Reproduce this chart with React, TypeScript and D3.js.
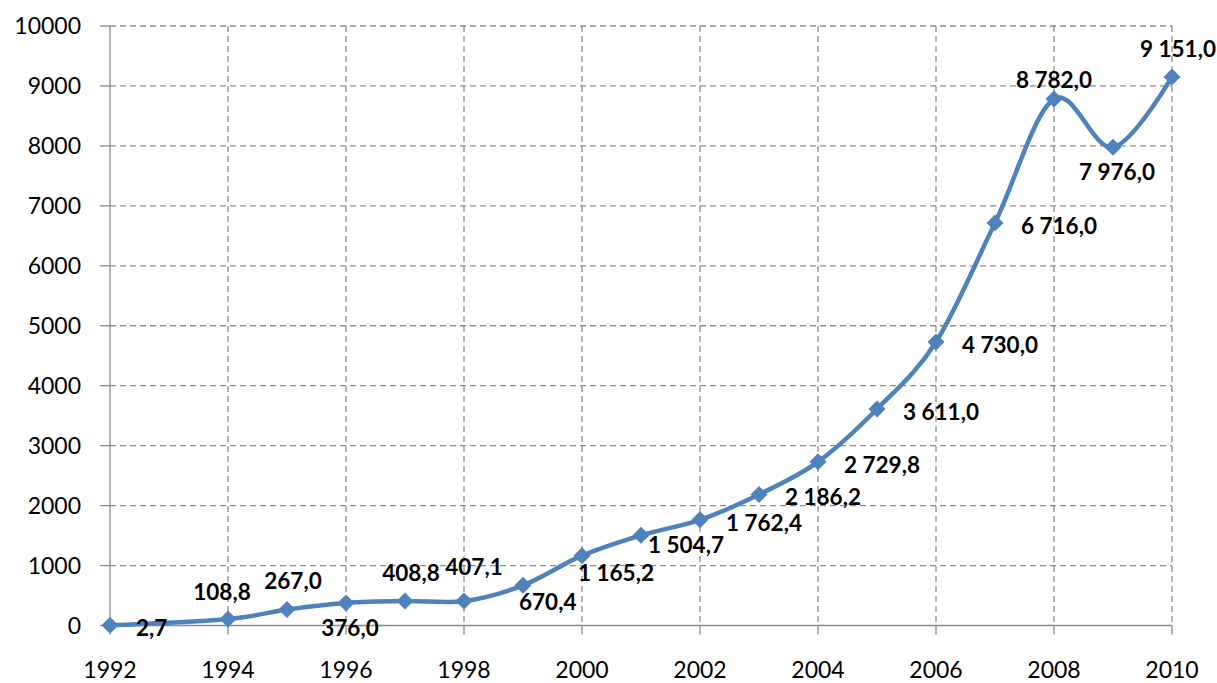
import React from "react";
import * as d3 from "d3";

const years = [1992, 1994, 1995, 1996, 1997, 1998, 1999, 2000, 2001, 2002, 2003, 2004, 2005, 2006, 2007, 2008, 2009, 2010];
const values = [2.7, 108.8, 267.0, 376.0, 408.8, 407.1, 670.4, 1165.2, 1504.7, 1762.4, 2186.2, 2729.8, 3611.0, 4730.0, 6716.0, 8782.0, 7976.0, 9151.0];
const labels = ["2,7", "108,8", "267,0", "376,0", "408,8", "407,1", "670,4", "1 165,2", "1 504,7", "1 762,4", "2 186,2", "2 729,8", "3 611,0", "4 730,0", "6 716,0", "8 782,0", "7 976,0", "9 151,0"];
const placements = ["right", "aboveLeft", "above", "below", "above", "aboveRight", "belowStart", "belowStart", "rightBelow", "right", "right", "right", "right", "right", "right", "aboveLow", "below", "above"];
const xTicks = [1992, 1994, 1996, 1998, 2000, 2002, 2004, 2006, 2008, 2010];
const yTicks = [0, 1000, 2000, 3000, 4000, 5000, 6000, 7000, 8000, 9000, 10000];

const W = 1217;
const H = 683;
const FONT = "Lato, 'Open Sans', 'DejaVu Sans', sans-serif";

export default function App() {
  const x = d3.scaleLinear().domain([1992, 2010]).range([110, 1172]);
  const y = d3.scaleLinear().domain([0, 10000]).range([625.5, 26]);
  const line = d3
    .line<number>()
    .x((_, i) => x(years[i]))
    .y((d) => y(d))
    .curve(d3.curveCardinal.tension(0));
  const path = line(values) || "";
  const grid = "#8c8c8c";
  const axis = "#8a8a8a";
  const blue = "#4F81BD";

  const labelPos = (p: string, px: number, py: number) => {
    switch (p) {
      case "above":
        return { lx: px + 6, ly: py - 28, anchor: "middle" };
      case "aboveLeft":
        return { lx: px - 6, ly: py - 27, anchor: "middle" };
      case "aboveLow":
        return { lx: px, ly: py - 19, anchor: "middle" };
      case "aboveRight":
        return { lx: px + 10, ly: py - 34, anchor: "middle" };
      case "below":
        return { lx: px + 4, ly: py + 25, anchor: "middle" };
      case "belowStart":
        return { lx: px - 4, ly: py + 17, anchor: "start" };
      case "rightBelow":
        return { lx: px + 7, ly: py + 10, anchor: "start" };
      default:
        return { lx: px + 26, ly: py + 3, anchor: "start" };
    }
  };

  return (
    <svg
      width={W}
      height={H}
      style={{ position: "absolute", left: 0, top: 0, background: "#fff" }}
      fontFamily={FONT}
    >
      {yTicks.filter((t) => t > 0).map((t) => (
        <line key={"hg" + t} x1={x(1992)} x2={x(2010)} y1={y(t)} y2={y(t)} stroke={grid} strokeWidth={1.3} strokeDasharray="6,4" />
      ))}
      {xTicks.filter((t) => t > 1992).map((t) => (
        <line key={"vg" + t} x1={x(t)} x2={x(t)} y1={y(10000)} y2={y(0)} stroke={grid} strokeWidth={1.3} strokeDasharray="6,4" />
      ))}
      <line x1={x(1992)} x2={x(1992)} y1={y(10000)} y2={y(0)} stroke={axis} strokeWidth={1.3} />
      <line x1={x(1992)} x2={x(2010)} y1={y(0)} y2={y(0)} stroke={axis} strokeWidth={1.3} />
      {yTicks.map((t) => (
        <g key={"yt" + t}>
          <line x1={x(1992) - 10} x2={x(1992)} y1={y(t)} y2={y(t)} stroke={axis} strokeWidth={1.3} />
          <text x={81} y={y(t)} dy="0.35em" textAnchor="end" fontSize={23} fill="#000">
            {t}
          </text>
        </g>
      ))}
      {xTicks.map((t) => (
        <g key={"xt" + t}>
          <line x1={x(t)} x2={x(t)} y1={y(0)} y2={y(0) + 9} stroke={axis} strokeWidth={1.3} />
          <text x={x(t)} y={670} dy="0.35em" textAnchor="middle" fontSize={23} fill="#000">
            {t}
          </text>
        </g>
      ))}
      <path d={path} fill="none" stroke={blue} strokeWidth={4.5} strokeLinejoin="round" />
      {values.map((v, i) => {
        const px = x(years[i]);
        const py = y(v);
        return (
          <rect key={"m" + i} x={px - 6} y={py - 6} width={12} height={12} fill={blue} transform={`rotate(45 ${px} ${py})`} />
        );
      })}
      {values.map((v, i) => {
        const px = x(years[i]);
        const py = y(v);
        const { lx, ly, anchor } = labelPos(placements[i], px, py);
        return (
          <text key={"l" + i} x={lx} y={ly} dy="0.35em" textAnchor={anchor as any} fontSize={22.5} fontWeight="bold" fill="#000">
            {labels[i]}
          </text>
        );
      })}
    </svg>
  );
}
